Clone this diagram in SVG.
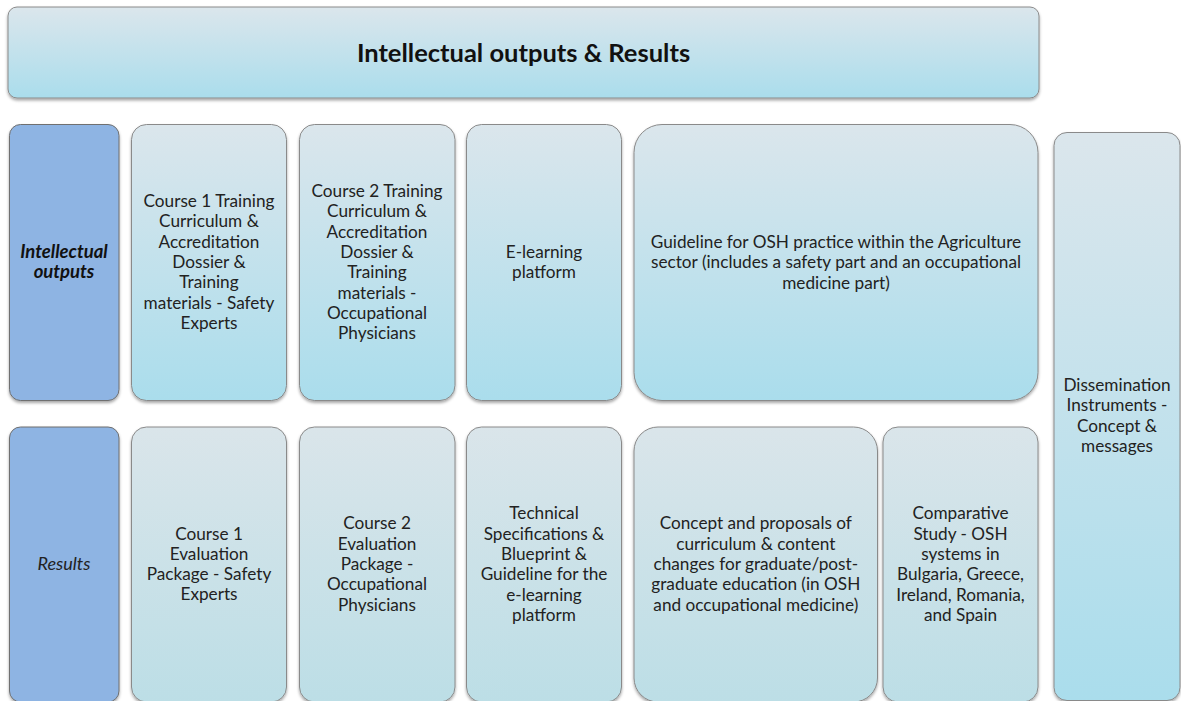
<svg xmlns="http://www.w3.org/2000/svg" width="1181" height="701" viewBox="0 0 1181 701">
<defs>
<linearGradient id="gBox" x1="0" y1="0" x2="0" y2="1">
<stop offset="0" stop-color="#DBE6EC"/>
<stop offset="1" stop-color="#AADDEC"/>
</linearGradient>
<linearGradient id="gBox2" x1="0" y1="0" x2="0" y2="1">
<stop offset="0" stop-color="#DAE5EA"/>
<stop offset="1" stop-color="#BCDEE6"/>
</linearGradient>
<filter id="sh" x="-10%" y="-10%" width="120%" height="120%">
<feDropShadow dx="0" dy="2" stdDeviation="1.6" flood-color="#000" flood-opacity="0.35"/>
</filter>
</defs>
<style>
.box{fill:url(#gBox);stroke:#8a8a8a;stroke-width:1;filter:url(#sh)}
.box2{fill:url(#gBox2);stroke:#8a8a8a;stroke-width:1;filter:url(#sh)}
.lab{fill:#8EB4E3;stroke:#6f6f6f;stroke-width:1;filter:url(#sh)}
text{font-family:Lato,"Liberation Sans",sans-serif;font-size:17.2px;fill:#222;text-anchor:middle}
.title{font-size:25.5px;font-weight:bold;fill:#111}
.bi{font-weight:bold;font-style:italic;fill:#111;font-size:18.5px}
.it{font-style:italic;font-size:18px}
</style>
<rect width="1181" height="701" fill="#ffffff"/>
<g id="title">
<rect class="box" x="8" y="7" width="1031" height="91" rx="9"/>
<text class="title" x="523.5" y="62">Intellectual outputs &amp; Results</text>
</g>
<g id="label-outputs">
<rect class="lab" x="9.5" y="124.5" width="109.5" height="276" rx="11"/>
<text class="bi" x="64" y="258">Intellectual</text>
<text class="bi" x="64" y="278.3">outputs</text>
</g>
<g id="course1">
<rect class="box" x="131.5" y="124.5" width="155" height="276" rx="15"/>
<text x="209" y="207"><tspan x="209">Course 1 Training</tspan><tspan x="209" dy="20.3">Curriculum &amp;</tspan><tspan x="209" dy="20.3">Accreditation</tspan><tspan x="209" dy="20.3">Dossier &amp;</tspan><tspan x="209" dy="20.3">Training</tspan><tspan x="209" dy="20.3">materials - Safety</tspan><tspan x="209" dy="20.3">Experts</tspan></text>
</g>
<g id="course2">
<rect class="box" x="299.5" y="124.5" width="155.5" height="276" rx="15"/>
<text x="377" y="197"><tspan x="377">Course 2 Training</tspan><tspan x="377" dy="20.3">Curriculum &amp;</tspan><tspan x="377" dy="20.3">Accreditation</tspan><tspan x="377" dy="20.3">Dossier &amp;</tspan><tspan x="377" dy="20.3">Training</tspan><tspan x="377" dy="20.3">materials -</tspan><tspan x="377" dy="20.3">Occupational</tspan><tspan x="377" dy="20.3">Physicians</tspan></text>
</g>
<g id="elearning">
<rect class="box" x="466.5" y="124.5" width="155" height="276" rx="15"/>
<text x="544" y="258"><tspan x="544">E-learning</tspan><tspan x="544" dy="20.3">platform</tspan></text>
</g>
<g id="guideline">
<rect class="box" x="634" y="124.5" width="404" height="276" rx="28"/>
<text x="836" y="248"><tspan x="836">Guideline for OSH practice within the Agriculture</tspan><tspan x="836" dy="20.3">sector (includes a safety part and an occupational</tspan><tspan x="836" dy="20.3">medicine part)</tspan></text>
</g>
<g id="dissemination">
<rect class="box" x="1054" y="132.5" width="126" height="568" rx="13"/>
<text x="1117" y="391"><tspan x="1117">Dissemination</tspan><tspan x="1117" dy="20.3">Instruments -</tspan><tspan x="1117" dy="20.3">Concept &amp;</tspan><tspan x="1117" dy="20.3">messages</tspan></text>
</g>
<g id="label-results">
<rect class="lab" x="9.5" y="427" width="109.5" height="275" rx="11"/>
<text class="it" x="64" y="570">Results</text>
</g>
<g id="eval1">
<rect class="box2" x="131.5" y="427" width="155" height="275" rx="15"/>
<text x="209" y="539.5"><tspan x="209">Course 1</tspan><tspan x="209" dy="20.3">Evaluation</tspan><tspan x="209" dy="20.3">Package - Safety</tspan><tspan x="209" dy="20.3">Experts</tspan></text>
</g>
<g id="eval2">
<rect class="box2" x="299.5" y="427" width="155.5" height="275" rx="15"/>
<text x="377" y="529.4"><tspan x="377">Course 2</tspan><tspan x="377" dy="20.3">Evaluation</tspan><tspan x="377" dy="20.3">Package -</tspan><tspan x="377" dy="20.3">Occupational</tspan><tspan x="377" dy="20.3">Physicians</tspan></text>
</g>
<g id="techspec">
<rect class="box2" x="466.5" y="427" width="155" height="275" rx="15"/>
<text x="544" y="519.3"><tspan x="544">Technical</tspan><tspan x="544" dy="20.3">Specifications &amp;</tspan><tspan x="544" dy="20.3">Blueprint &amp;</tspan><tspan x="544" dy="20.3">Guideline for the</tspan><tspan x="544" dy="20.3">e-learning</tspan><tspan x="544" dy="20.3">platform</tspan></text>
</g>
<g id="concept">
<rect class="box2" x="634" y="427" width="243.5" height="275" rx="24"/>
<text x="755.8" y="529.4"><tspan x="755.8">Concept and proposals of</tspan><tspan x="755.8" dy="20.3">curriculum &amp; content</tspan><tspan x="755.8" dy="20.3">changes for graduate/post-</tspan><tspan x="755.8" dy="20.3">graduate education (in OSH</tspan><tspan x="755.8" dy="20.3">and occupational medicine)</tspan></text>
</g>
<g id="comparative">
<rect class="box2" x="883" y="427" width="155" height="275" rx="15"/>
<text x="960.5" y="519.3"><tspan x="960.5">Comparative</tspan><tspan x="960.5" dy="20.3">Study - OSH</tspan><tspan x="960.5" dy="20.3">systems in</tspan><tspan x="960.5" dy="20.3">Bulgaria, Greece,</tspan><tspan x="960.5" dy="20.3">Ireland, Romania,</tspan><tspan x="960.5" dy="20.3">and Spain</tspan></text>
</g>
<g id="connectors"></g>
</svg>
